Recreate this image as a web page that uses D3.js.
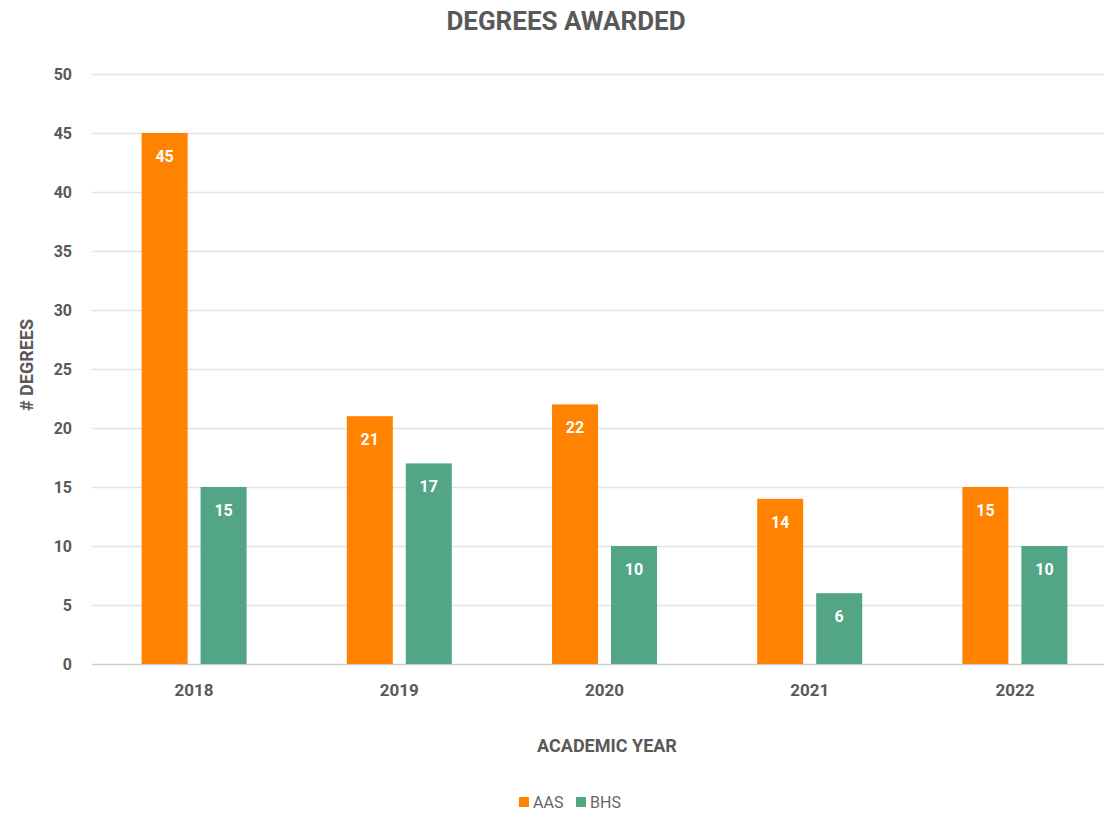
<!DOCTYPE html>
<html>
<head>
<meta charset="utf-8">
<script src="https://cdn.jsdelivr.net/npm/d3@7"></script>
<style>
  body { margin: 0; background: #fff; }
  text { font-family: Roboto, sans-serif; fill: #595959; }
</style>
</head>
<body>
<script>
var years = ["2018", "2019", "2020", "2021", "2022"],
    series = ["AAS", "BHS"],
    aas = [45, 21, 22, 14, 15],
    bhs = [15, 17, 10, 6, 10],
    yTicks = [0, 5, 10, 15, 20, 25, 30, 35, 40, 45, 50],
    colors = {AAS: "#ff8200", BHS: "#52a685"};

var W = 1104, H = 814,
    values = {AAS: aas, BHS: bhs};

var svg = d3.select("body").append("svg")
    .attr("width", W).attr("height", H);

var x0 = d3.scaleBand().domain(years).range([91.5, 1117.5]),
    bw = x0.bandwidth(),
    x1 = d3.scaleBand().domain(series)
        .range([bw/2 - 52.5, bw/2 + 52.5]).paddingInner(13/59),
    y = d3.scaleLinear().domain([0, 50]).range([664, 74]);

// gridlines
svg.append("g").selectAll("line")
    .data(yTicks)
  .enter().append("line")
    .attr("x1", 92).attr("x2", W)
    .attr("y1", d => y(d) + 0.5).attr("y2", d => y(d) + 0.5)
    .attr("stroke", d => d === 0 ? "#d0d0d0" : "#e3e3e3")
    .attr("stroke-width", 1.5);

// y tick labels
svg.append("g").selectAll("text")
    .data(yTicks)
  .enter().append("text")
    .attr("x", 72).attr("y", d => y(d))
    .attr("dy", "0.35em")
    .attr("text-anchor", "end")
    .style("font-size", "16px").style("font-weight", "bold")
    .text(d => d);

// bars
var groups = svg.append("g").selectAll("g")
    .data(years)
  .enter().append("g")
    .attr("transform", d => "translate(" + x0(d) + ",0)");

groups.selectAll("rect")
    .data((d, i) => series.map(s => ({s: s, v: values[s][i]})))
  .enter().append("rect")
    .attr("x", d => x1(d.s))
    .attr("width", x1.bandwidth())
    .attr("y", d => y(d.v))
    .attr("height", d => y(0) - y(d.v))
    .attr("fill", d => colors[d.s]);

groups.selectAll("text.val")
    .data((d, i) => series.map(s => ({s: s, v: values[s][i]})))
  .enter().append("text")
    .attr("class", "val")
    .attr("x", d => x1(d.s) + x1.bandwidth()/2)
    .attr("y", d => y(d.v) + 29)
    .attr("text-anchor", "middle")
    .style("fill", "#fff")
    .style("font-size", "16px").style("font-weight", "bold")
    .text(d => d.v);

// x labels
svg.append("g").selectAll("text")
    .data(years)
  .enter().append("text")
    .attr("x", d => x0(d) + bw/2)
    .attr("y", 696)
    .attr("text-anchor", "middle")
    .style("font-size", "17px").style("font-weight", "bold")
    .text(d => d);

// titles
svg.append("text")
    .attr("x", 566).attr("y", 30)
    .attr("text-anchor", "middle")
    .style("font-size", "26px").style("font-weight", "bold")
    .text("DEGREES AWARDED");

svg.append("text")
    .attr("x", 607).attr("y", 752)
    .attr("text-anchor", "middle")
    .style("font-size", "18px").style("font-weight", "bold")
    .text("ACADEMIC YEAR");

svg.append("text")
    .attr("transform", "translate(33,365) rotate(-90)")
    .attr("text-anchor", "middle")
    .style("font-size", "18px").style("font-weight", "bold")
    .text("# DEGREES");

// legend
var leg = svg.append("g").selectAll("g")
    .data(series)
  .enter().append("g")
    .attr("transform", (d, i) => "translate(" + (519 + i * 57) + ",797)");

leg.append("rect")
    .attr("width", 10).attr("height", 10)
    .attr("fill", d => colors[d]);

leg.append("text")
    .attr("x", 14).attr("y", 10.5)
    .style("font-size", "16px")
    .style("fill", "#666")
    .text(d => d);
</script>
</body>
</html>
